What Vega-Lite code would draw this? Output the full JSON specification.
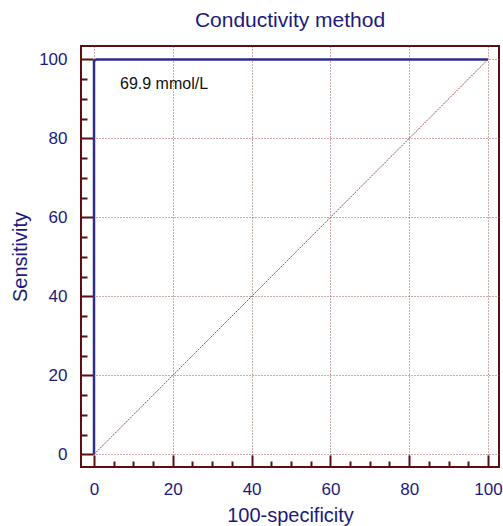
{
  "$schema": "https://vega.github.io/schema/vega-lite/v6.json",
  "autosize": {"type": "none"},
  "padding": {"left": 81, "top": 46, "right": 4, "bottom": 59},
  "width": 418,
  "height": 421,
  "background": "white",
  "config": {
    "font": "Liberation Sans",
    "view": {"stroke": "#5a0e12", "strokeWidth": 2},
    "axis": {"domain": false}
  },
  "title": {
    "text": "Conductivity method",
    "fontSize": 21,
    "fontWeight": "normal",
    "color": "#1c1a7c",
    "baseline": "alphabetic",
    "frame": "group",
    "offset": -2
  },
  "datasets": {
    "roc": [
      {"fpr": 0, "sens": 0},
      {"fpr": 0, "sens": 99.6},
      {"fpr": 0.6, "sens": 100},
      {"fpr": 100, "sens": 100}
    ],
    "diag": [
      {"fpr": 0, "sens": 0},
      {"fpr": 100, "sens": 100}
    ],
    "note": [
      {"fpr": 6.6, "sens": 93.7, "label": "69.9 mmol/L"}
    ]
  },
  "resolve": {"axis": {"x": "independent", "y": "independent"}},
  "layer": [
    {
      "data": {"name": "roc"},
      "mark": {"type": "line", "color": "#2e2e90", "strokeWidth": 2.5, "interpolate": "linear"},
      "encoding": {
        "x": {
          "field": "fpr", "type": "quantitative",
          "scale": {"domain": [-3.3, 102.8], "nice": false, "zero": false},
          "axis": {
            "orient": "bottom", "values": [0, 20, 40, 60, 80, 100],
            "ticks": false, "tickSize": 0, "labelPadding": 14,
            "labelFontSize": 17, "labelColor": "#1c1a7c",
            "grid": true, "gridColor": "#8a3a3a", "gridDash": [1, 2], "gridOpacity": 0.85,
            "title": "100-specificity", "titleFontSize": 20, "titleFontWeight": "normal",
            "titleColor": "#1c1a7c", "titlePadding": 8
          }
        },
        "y": {
          "field": "sens", "type": "quantitative",
          "scale": {"domain": [-3.2, 103.4], "nice": false, "zero": false},
          "axis": {
            "orient": "left", "values": [0, 20, 40, 60, 80, 100],
            "ticks": false, "tickSize": 0, "labelPadding": 14,
            "labelFontSize": 17, "labelColor": "#1c1a7c",
            "grid": true, "gridColor": "#8a3a3a", "gridDash": [1, 2], "gridOpacity": 0.85,
            "title": "Sensitivity", "titleFontSize": 20, "titleFontWeight": "normal",
            "titleColor": "#1c1a7c", "titlePadding": 8
          }
        }
      }
    },
    {
      "data": {"name": "diag"},
      "mark": {"type": "line", "color": "#9a4a4a", "strokeWidth": 1, "strokeDash": [2, 1]},
      "encoding": {
        "x": {
          "field": "fpr", "type": "quantitative",
          "axis": {
            "orient": "bottom", "values": [0, 20, 40, 60, 80, 100],
            "labels": false, "grid": false, "title": null,
            "ticks": true, "tickSize": -12, "tickWidth": 2, "tickColor": "#5a0e12"
          }
        },
        "y": {
          "field": "sens", "type": "quantitative",
          "axis": {
            "orient": "left", "values": [0, 20, 40, 60, 80, 100],
            "labels": false, "grid": false, "title": null,
            "ticks": true, "tickSize": -12, "tickWidth": 2, "tickColor": "#5a0e12"
          }
        }
      }
    },
    {
      "data": {"name": "note"},
      "mark": {"type": "text", "align": "left", "baseline": "middle", "fontSize": 16, "color": "#111111"},
      "encoding": {
        "x": {
          "field": "fpr", "type": "quantitative",
          "axis": {
            "orient": "bottom", "values": [5, 10, 15, 25, 30, 35, 45, 50, 55, 65, 70, 75, 85, 90, 95],
            "labels": false, "grid": false, "title": null,
            "ticks": true, "tickSize": -6, "tickWidth": 2, "tickColor": "#5a0e12"
          }
        },
        "y": {
          "field": "sens", "type": "quantitative",
          "axis": {
            "orient": "left", "values": [5, 10, 15, 25, 30, 35, 45, 50, 55, 65, 70, 75, 85, 90, 95],
            "labels": false, "grid": false, "title": null,
            "ticks": true, "tickSize": -6, "tickWidth": 2, "tickColor": "#5a0e12"
          }
        },
        "text": {"field": "label"}
      }
    }
  ]
}
